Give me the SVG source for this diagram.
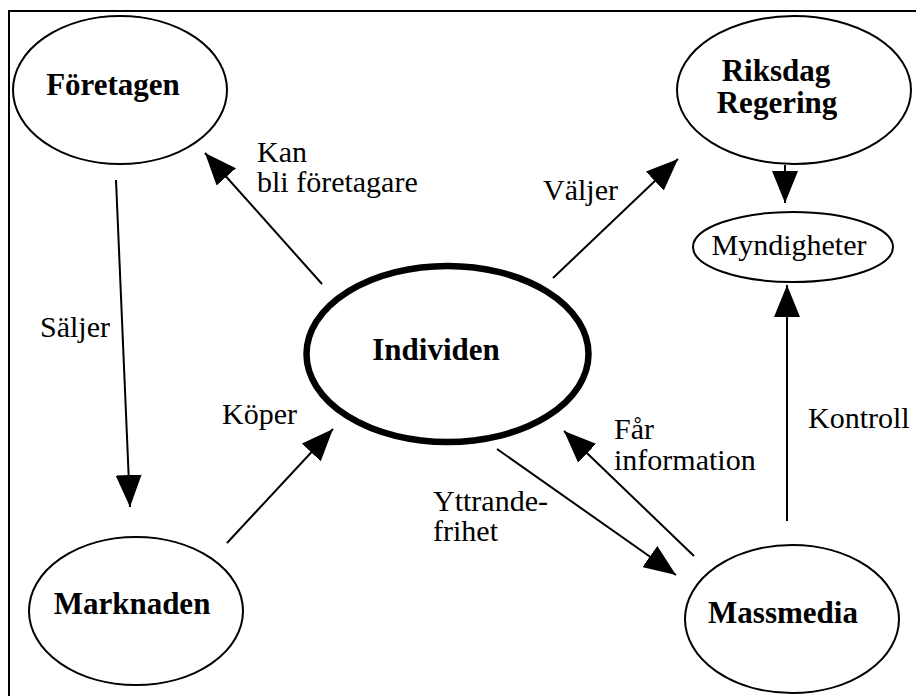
<svg xmlns="http://www.w3.org/2000/svg" width="916" height="696" viewBox="0 0 916 696">
<style>
.node{fill:#fff;stroke:#000;stroke-width:2}
.thick{fill:#fff;stroke:#000;stroke-width:6.5}
.nb{font-family:'Liberation Serif','Times New Roman',serif;font-weight:bold;font-size:31px;text-anchor:middle;fill:#000}
.nr{font-family:'Liberation Serif','Times New Roman',serif;font-size:30px;text-anchor:middle;fill:#000}
.lbl{font-family:'Liberation Serif','Times New Roman',serif;font-size:30px;fill:#000}
.edge{stroke:#000;stroke-width:2;fill:none;marker-end:url(#arr)}
</style>
<defs>
<marker id="arr" markerUnits="userSpaceOnUse" markerWidth="32" markerHeight="26" refX="32" refY="13" orient="auto" viewBox="0 0 32 26">
<path d="M0,0 L32,13 L0,26 z" fill="#000"/>
</marker>
</defs>
<rect width="916" height="696" fill="#fff"/>
<path d="M9,696 V11 H916" fill="none" stroke="#000" stroke-width="2"/>
<g id="connectors">
<line class="edge" x1="322" y1="284" x2="205" y2="153"/>
<line class="edge" x1="116" y1="180" x2="130" y2="507"/>
<line class="edge" x1="227" y1="543" x2="333" y2="429"/>
<line class="edge" x1="553" y1="278" x2="678" y2="159"/>
<line class="edge" x1="785" y1="165" x2="785" y2="203"/>
<line class="edge" x1="787" y1="521" x2="787" y2="285"/>
<line class="edge" x1="694" y1="556" x2="564" y2="431"/>
<line class="edge" x1="497" y1="449" x2="676" y2="575"/>
<text class="lbl" x="257" y="162">Kan</text>
<text class="lbl" x="257" y="192">bli företagare</text>
<text class="lbl" x="40" y="337">Säljer</text>
<text class="lbl" x="222" y="424">Köper</text>
<text class="lbl" x="543" y="200">Väljer</text>
<text class="lbl" x="808" y="428">Kontroll</text>
<text class="lbl" x="614" y="439">Får</text>
<text class="lbl" x="614" y="470">information</text>
<text class="lbl" x="433" y="511">Yttrande-</text>
<text class="lbl" x="433" y="541">frihet</text>
</g>
<g id="foretagen">
<ellipse class="node" cx="120" cy="90" rx="107" ry="74"/>
<text class="nb" x="113" y="95">Företagen</text>
</g>
<g id="riksdag">
<ellipse class="node" cx="794" cy="90" rx="117" ry="74"/>
<text class="nb" x="776" y="81">Riksdag</text>
<text class="nb" x="777" y="113">Regering</text>
</g>
<g id="myndigheter">
<ellipse class="node" cx="793" cy="247" rx="100" ry="35"/>
<text class="nr" x="789" y="255">Myndigheter</text>
</g>
<g id="individen">
<ellipse class="thick" cx="447.5" cy="354" rx="141" ry="88"/>
<text class="nb" x="436" y="360">Individen</text>
</g>
<g id="marknaden">
<ellipse class="node" cx="136" cy="611" rx="107" ry="74"/>
<text class="nb" x="132" y="614">Marknaden</text>
</g>
<g id="massmedia">
<ellipse class="node" cx="792" cy="619" rx="107" ry="74"/>
<text class="nb" x="783" y="623">Massmedia</text>
</g>
</svg>
